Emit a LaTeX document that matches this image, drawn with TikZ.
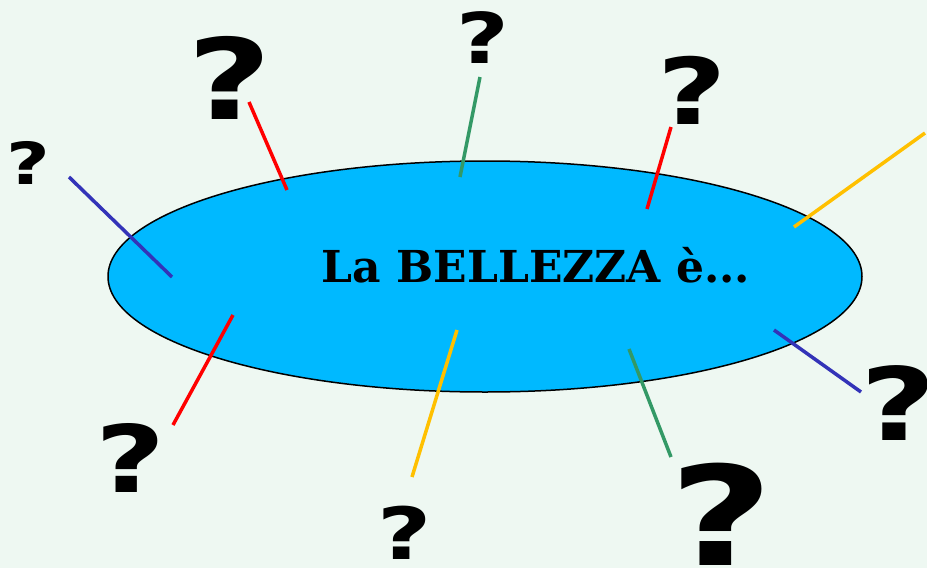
\documentclass[tikz,border=0pt]{standalone}
\usepackage{fontspec}
\usepackage{tikz}
\usetikzlibrary{shapes.geometric}
\newfontfamily\qfont{DejaVu Sans}[BoldFont={* Bold}]
\newfontfamily\titlefont{DejaVu Serif}[BoldFont={* Bold}]
\newcommand\qsz[1]{\qfont\bfseries\fontsize{#1}{#1}\selectfont}
\definecolor{bgmint}{HTML}{EEF8F2}
\definecolor{bowlblue}{HTML}{00B9FF}
\definecolor{stickred}{HTML}{FF0000}
\definecolor{stickgreen}{HTML}{339966}
\definecolor{stickyellow}{HTML}{FFC000}
\definecolor{stickblue}{HTML}{3333B8}

\begin{document}
\begin{tikzpicture}[x=1pt,y=-1pt,
  qm/.style={anchor=base, inner sep=0pt, xscale=1.3},
  stick/.style={line width=3.5pt}]
  % Background
  \fill[bgmint] (0,0) rectangle (927,568);
  \useasboundingbox (0,0) rectangle (927,568);
  % Central ellipse
  \node[ellipse, draw=black, line width=1.5pt, fill=bowlblue, inner sep=0pt,
        minimum width=754pt, minimum height=231pt] (bowl) at (485,276.5) {};
  \node[anchor=base, font=\titlefont\bfseries\fontsize{44}{44}\selectfont, inner sep=0pt]
    (title) at (536,282) {La BELLEZZA è...};
  % Question marks
  \node[qm, font=\qsz{112}] (qUL) at (230,119) {?};
  \node[qm, font=\qsz{70}]  (qT)  at (483,63)  {?};
  \node[qm, font=\qsz{92}]  (qUR) at (692,124) {?};
  \node[qm, font=\qsz{58}]  (qL)  at (28,184)  {?};
  \node[qm, font=\qsz{101}] (qR)  at (899,440) {?};
  \node[qm, font=\qsz{138}] (qBR) at (722,565) {?};
  \node[qm, font=\qsz{72}]  (qB)  at (405,559) {?};
  \node[qm, font=\qsz{93}]  (qLL) at (131,492) {?};
  % Stick ends
  \coordinate (sL1) at (69,177);   \coordinate (sL2) at (172,277);
  \coordinate (sUL1) at (249,102); \coordinate (sUL2) at (287,190);
  \coordinate (sT1) at (480,77);   \coordinate (sT2) at (460,177);
  \coordinate (sUR1) at (671,127); \coordinate (sUR2) at (647,209);
  \coordinate (sRT1) at (925,133); \coordinate (sRT2) at (794,227);
  \coordinate (sR1) at (861,392);  \coordinate (sR2) at (774,330);
  \coordinate (sBR1) at (671,457); \coordinate (sBR2) at (629,349);
  \coordinate (sB1) at (412,477);  \coordinate (sB2) at (457,330);
  \coordinate (sLL1) at (173,425); \coordinate (sLL2) at (233,315);
  % Sticks
  \draw[stick, stickblue]   (sL1) -- (sL2);
  \draw[stick, stickred]    (sUL1) -- (sUL2);
  \draw[stick, stickgreen]  (sT1) -- (sT2);
  \draw[stick, stickred]    (sUR1) -- (sUR2);
  \draw[stick, stickyellow] (sRT1) -- (sRT2);
  \draw[stick, stickblue]   (sR1) -- (sR2);
  \draw[stick, stickgreen]  (sBR1) -- (sBR2);
  \draw[stick, stickyellow] (sB1) -- (sB2);
  \draw[stick, stickred]    (sLL1) -- (sLL2);
\end{tikzpicture}
\end{document}
